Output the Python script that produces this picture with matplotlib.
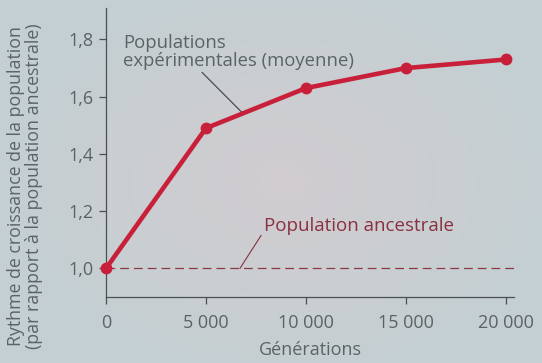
import matplotlib
matplotlib.use("Agg")
import matplotlib.pyplot as plt
import numpy as np

generations = [0, 5000, 10000, 15000, 20000]
growth = [1.0, 1.49, 1.63, 1.70, 1.73]
ancestral = 1.0
yticks = [1.0, 1.2, 1.4, 1.6, 1.8]
ytick_labels = ["1,0", "1,2", "1,4", "1,6", "1,8"]
xtick_labels = ["0", "5 000", "10 000", "15 000", "20 000"]

plt.rcParams['font.family'] = ['Open Sans', 'DejaVu Sans']

bg = '#c4d0d3'
fig = plt.figure(figsize=(5.42, 3.63), dpi=100, facecolor=bg)

# subtle background gradient
bgax = fig.add_axes([0, 0, 1, 1], zorder=-10)
yy, xx = np.mgrid[0:1:200j, 0:1:300j]
d = np.sqrt(((xx - 0.52) / 0.55) ** 2 + ((yy - 0.5) / 0.6) ** 2)
w = np.clip(1 - d, 0, 1)[..., None]
edge = np.array([0.765, 0.815, 0.830])
center = np.array([0.820, 0.800, 0.815])
img = edge * (1 - w) + center * w
bgax.imshow(img, aspect='auto', extent=[0, 1, 0, 1])
bgax.axis('off')

ax = fig.add_axes([0.1956, 0.1818, 0.7524, 0.7962])
ax.set_facecolor('none')

txt = '#5c6366'
ax.axhline(ancestral, color='#8a3a42', lw=0.9, ls=(0, (7, 4)))
ax.plot(generations, growth, color='#c8203a', lw=3.3, marker='o', ms=7.5,
        mfc='#c8203a', mec='#c8203a', clip_on=False, zorder=5)

ax.set_xlim(0, 20400)
ax.set_ylim(0.9, 1.91)
ax.set_xticks(generations)
ax.set_xticklabels(xtick_labels)
ax.set_yticks(yticks)
ax.set_yticklabels(ytick_labels)
for s in ['top', 'right']:
    ax.spines[s].set_visible(False)
for s in ['left', 'bottom']:
    ax.spines[s].set_color('#4a4f52')
    ax.spines[s].set_linewidth(0.9)
ax.tick_params(colors='#4a4f52', labelcolor=txt, labelsize=13, length=5, width=0.9)
ax.tick_params(axis='x', pad=7)
ax.tick_params(axis='y', pad=4)

ax.set_xlabel("Générations", color=txt, fontsize=13, labelpad=7)
ax.set_ylabel("Rythme de croissance de la population\n(par rapport à la population ancestrale)",
              color=txt, fontsize=12.8, linespacing=1.0)
ax.yaxis.set_label_coords(-0.155, 0.385)

ax.annotate("Populations\nexpérimentales (moyenne)", xy=(6800, 1.545), xytext=(850, 1.695),
            color=txt, fontsize=13.3, linespacing=0.98, va='bottom', ha='left',
            arrowprops=dict(arrowstyle='-', color='#3a3f42', lw=0.8, shrinkA=0, shrinkB=0,
                            relpos=(0.33, 0.0)))
ax.annotate("Population ancestrale", xy=(6700, 1.0), xytext=(7900, 1.115),
            color='#8a3040', fontsize=13.5, va='bottom', ha='left',
            arrowprops=dict(arrowstyle='-', color='#8a3040', lw=0.8, shrinkA=0, shrinkB=0,
                            relpos=(0.0, 0.25)))

fig.savefig("out.png", dpi=100, facecolor=bg)
